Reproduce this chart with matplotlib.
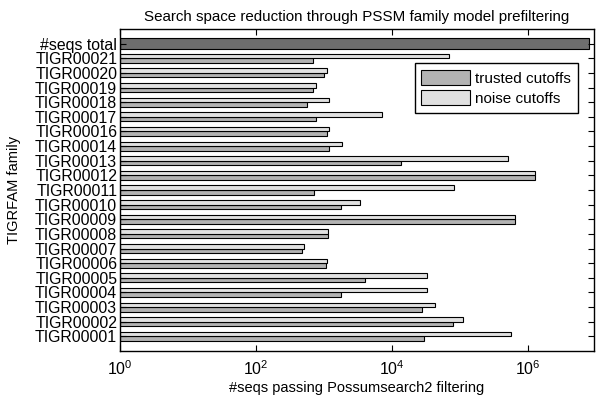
import matplotlib
matplotlib.use("Agg")
import matplotlib.pyplot as plt
import numpy as np

plt.rcParams['font.family'] = ['Liberation Sans', 'DejaVu Sans']
plt.rcParams['mathtext.fontset'] = 'custom'
plt.rcParams['mathtext.rm'] = 'Liberation Sans'
plt.rcParams['mathtext.it'] = 'Liberation Sans:italic'
plt.rcParams['mathtext.bf'] = 'Liberation Sans:bold'

families = ["TIGR00001", "TIGR00002", "TIGR00003", "TIGR00004", "TIGR00005",
            "TIGR00006", "TIGR00007", "TIGR00008", "TIGR00009", "TIGR00010",
            "TIGR00011", "TIGR00012", "TIGR00013", "TIGR00014", "TIGR00016",
            "TIGR00017", "TIGR00018", "TIGR00019", "TIGR00020", "TIGR00021"]
trusted = [30200, 80500, 28200, 1815, 4050,
           1090, 480, 1145, 644000, 1815,
           720, 1290000, 13560, 1197, 1107,
           752, 555, 680, 1020, 680]
noise = [562000, 112000, 43300, 32700, 33000,
         1107, 513, 1145, 644000, 3383,
         82400, 1290000, 518800, 1878, 1185,
         7130, 1169, 752, 1107, 70300]
total_label = "#seqs total"
total_value = 8.05e6

fig = plt.figure(figsize=(5.98, 3.96), dpi=100)
ax = fig.add_axes([0.2007, 0.1136, 0.7926, 0.8132])

n = len(families)
pos = np.arange(1, n + 1)
h = 0.31
ax.barh(pos - h / 2, trusted, height=h, left=1, color='#b3b3b3',
        edgecolor='black', linewidth=0.8, label='trusted cutoffs')
ax.barh(pos + h / 2, noise, height=h, left=1, color='#e1e1e1',
        edgecolor='black', linewidth=0.8, label='noise cutoffs')
ax.barh([n + 1], [total_value], height=0.8, left=1, color='#6e6e6e',
        edgecolor='black', linewidth=0.8)

ax.set_xscale('log')
ax.set_xlim(1, 10 ** 6.975)
ax.set_ylim(0, n + 2)
ax.set_yticks(list(pos) + [n + 1])
ax.set_yticklabels(families + [total_label], fontsize=11.4)
ax.set_xticks([1, 1e2, 1e4, 1e6])
ax.set_xticklabels([r'$10^{0}$', r'$10^{2}$', r'$10^{4}$', r'$10^{6}$'], fontsize=11.5)
ax.xaxis.set_minor_locator(matplotlib.ticker.NullLocator())
ax.tick_params(direction='in', top=True, right=True, length=4, width=0.8)
ax.tick_params(axis='x', pad=6)
ax.tick_params(axis='y', pad=2)
for s in ax.spines.values():
    s.set_linewidth(1.0)

ax.set_xlabel('#seqs passing Possumsearch2 filtering', fontsize=10.5, labelpad=2)
ax.set_ylabel('TIGRFAM family', fontsize=10.5, labelpad=10)
ax.set_title('Search space reduction through PSSM family model prefiltering',
             fontsize=10.9, pad=6)

leg = ax.legend(loc='upper right', bbox_to_anchor=(0.9656, 0.8935), fontsize=11,
                handlelength=3.2, handleheight=1.1, fancybox=False,
                edgecolor='black', framealpha=1, borderpad=0.45,
                labelspacing=0.3, handletextpad=0.3, borderaxespad=0)
leg.get_frame().set_linewidth(1.0)

fig.savefig('out.png', dpi=100)
